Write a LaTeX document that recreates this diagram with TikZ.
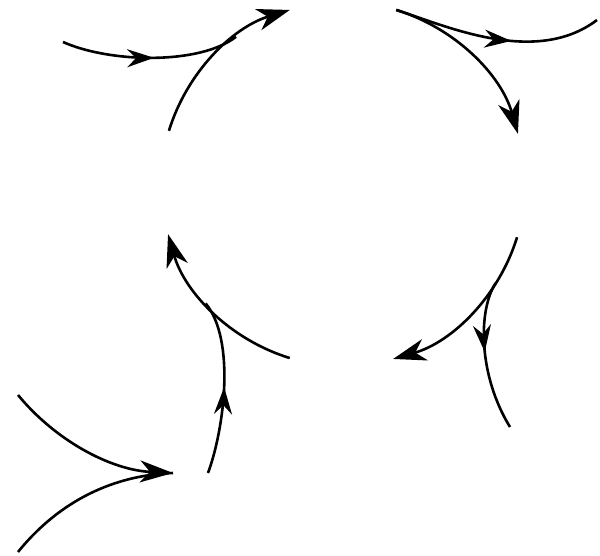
\documentclass[tikz,border=0pt]{standalone}
\usepackage{tikz}
\usetikzlibrary{arrows.meta,decorations.markings,calc}
\tikzset{
  flow/.style={line width=2.6pt, -{Stealth[length=33pt,width=22pt,inset=10pt]}},
  plain/.style={line width=2.6pt},
  midarrow/.style={decoration={markings,
      mark=at position #1 with {\arrow{Stealth[length=27pt,width=18pt,inset=9pt]}}},
    postaction=decorate}
}

\begin{document}
\begin{tikzpicture}[x=1pt,y=1pt]
\useasboundingbox (0,0) rectangle (600,555);
\coordinate (c) at (343,371);
% points on the circle
\foreach \n/\a in {nwa/163, nwb/107, nwm/126,
                   nea/73, neb/16,
                   sea/-17, seb/-74, sem/-33,
                   swa/-107, swb/-164, swm/-139}
  \coordinate (\n) at ($(c)+(\a:182pt)$);
% outer ends
\coordinate (inA) at (63,513);
\coordinate (outC) at (597,535);
\coordinate (outF) at (510,128);
\coordinate (inH) at (208,82);
\coordinate (inI) at (18,160);
\coordinate (inJ) at (18,3);
\coordinate (tipI) at (173,82);

% the four arcs
\draw[flow] (nwa) arc[start angle=163,end angle=107,radius=182pt];
\draw[flow] (nea) arc[start angle=73,end angle=16,radius=182pt];
\draw[flow] (sea) arc[start angle=-17,end angle=-74,radius=182pt];
\draw[flow] (swa) arc[start angle=-107,end angle=-164,radius=182pt];

% branches
\draw[plain,midarrow=0.52] (inA) .. controls (110,492) and (200,490) .. (nwm);
\draw[plain,midarrow=0.57] (nea) .. controls (444,530) and (535,488) .. (outC);
\draw[plain,midarrow=0.47] (sem) .. controls (478,245) and (478,180) .. (outF);
\draw[plain,midarrow=0.5] (inH) .. controls (224,125) and (236,215) .. (swm);
\draw[flow] (inI) .. controls (55,115) and (110,85) .. (tipI);
\draw[plain] (inJ) .. controls (60,55) and (115,80) .. (tipI);
\end{tikzpicture}
\end{document}
